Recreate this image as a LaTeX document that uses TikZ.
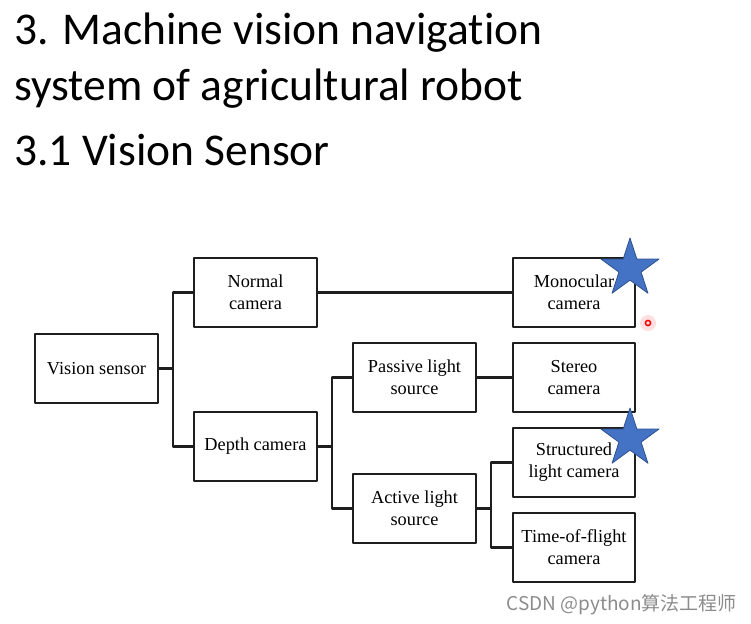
\documentclass[tikz,border=0pt]{standalone}
\usepackage{fontspec}
\setmainfont{Liberation Serif}
\newfontfamily\titlefont[Ligatures=NoCommon]{Carlito}
\newfontfamily\cjk{Noto Sans CJK SC}
\usetikzlibrary{shapes.geometric}
\definecolor{starblue}{HTML}{4472C4}
\definecolor{stardark}{HTML}{2F528F}
\definecolor{linegray}{HTML}{1E1E1E}
\tikzset{
  catbox/.style={draw=linegray,line width=2.2pt,minimum width=123pt,minimum height=69pt,
    inner sep=0pt,align=center,font=\fontsize{18.3}{22}\selectfont},
  link/.style={draw=linegray,line width=2.2pt},
  title/.style={anchor=base west,inner sep=0pt,font=\titlefont\fontsize{45.5}{50}\selectfont},
  mark star/.style={star,star points=5,star point ratio=2.618,minimum size=61pt,inner sep=0pt,
    fill=starblue,draw=stardark,line width=0.8pt}
}
\begin{document}
\begin{tikzpicture}[x=1pt,y=-1pt,join=round] %Vision sensor tree
        \useasboundingbox (0,0) rectangle (751,623);
        \node[title] (t1) at (14,45) {3. Machine vision navigation};
        \node[title] (t2) at (14,100) {system of agricultural robot};
        \node[title] (t3) at (14,165) {3.1 Vision Sensor};
        % boxes
        \node[catbox] (vis) at (96.5,368.5) {Vision sensor};
        \node[catbox] (normal) at (255.5,292.5) {Normal\\camera};
        \node[catbox] (depth) at (255.5,446.5) {Depth camera};
        \node[catbox] (passive) at (414.5,377.5) {Passive light\\source};
        \node[catbox] (active) at (414.5,508.5) {Active light\\source};
        \node[catbox,minimum width=122pt] (mono) at (574,292.5) {Monocular\\camera};
        \node[catbox,minimum width=122pt] (stereo) at (574,377.5) {Stereo\\camera};
        \node[catbox,minimum width=122pt] (struct) at (574,462.5) {Structured\\light camera};
        \node[catbox,minimum width=122pt] (tof) at (574,547.5) {Time-of-flight\\camera};
        % connectors
        \coordinate (b1) at (173,368.5);
        \coordinate (b2) at (332,446.5);
        \coordinate (b3) at (491,508.5);
        \draw[link] (vis.east) -- (b1);
        \draw[link] (normal.west) -| (b1) |- (depth.west);
        \draw[link] (depth.east) -- (b2);
        \draw[link] (passive.west) -| (b2) |- (active.west);
        \draw[link] (active.east) -- (b3);
        \draw[link] (struct.west) -| (b3) |- (tof.west);
        \draw[link] (normal.east) -- (mono.west);
        \draw[link] (passive.east) -- (stereo.west);
        % marks
        \node[mark star] (star1) at (630,268.5) {};
        \node[mark star] (star2) at (630,438.5) {};
        \fill[red!25,opacity=0.5] (648,323) circle (8pt);
        \draw[red,line width=1.5pt] (648,323) circle (2.6pt);
        \node[anchor=base east,inner sep=0pt,text=black!45,font=\cjk\fontsize{19}{21}\selectfont] (mark) at (737,610) {CSDN @python算法工程师};
\end{tikzpicture}
\end{document}
